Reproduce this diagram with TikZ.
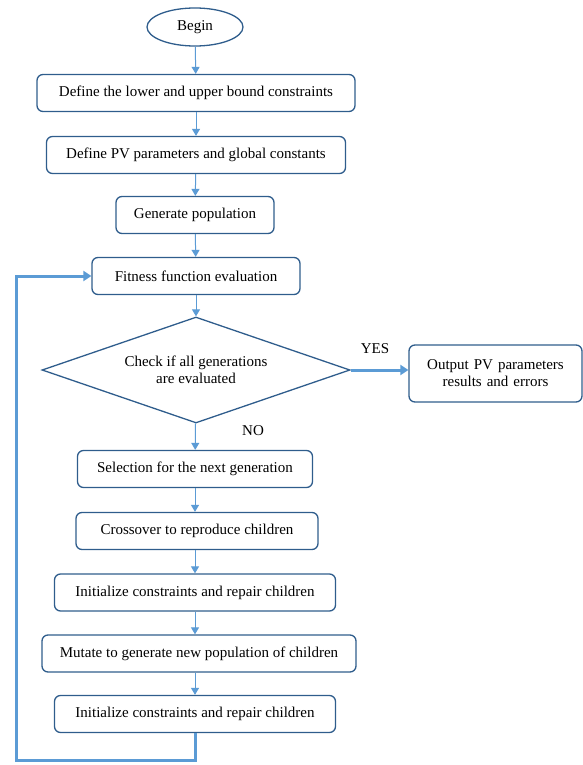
\documentclass[tikz,border=0pt]{standalone}
\usepackage{fontspec}
\setmainfont{Liberation Serif}
\usetikzlibrary{shapes.geometric,arrows.meta}
\definecolor{boxline}{HTML}{2F5D8C}
\definecolor{arr}{HTML}{5B9BD5}
\tikzset{
  stepbox/.style={draw=boxline, line width=1.3pt, rounded corners=6pt, minimum height=37pt, align=center, font=\fontsize{15}{17}\selectfont, inner sep=2pt},
  flow/.style={draw=arr, line width=1pt, -{Triangle[width=8pt,length=7pt]}},
  thickflow/.style={draw=arr, line width=3pt, -{Triangle[width=10pt,length=8pt]}},
  lbl/.style={font=\fontsize{15}{17}\selectfont}
}
\begin{document}
\begin{tikzpicture}[x=1pt,y=-1pt]
\useasboundingbox (0,0) rectangle (582,765);
\node[ellipse, draw=boxline, line width=1.3pt, minimum width=96pt, minimum height=38pt, inner sep=0pt, lbl] (begin) at (195,27) {Begin};
\node[stepbox, minimum width=318pt] (b1) at (196,93) {Define the lower and upper bound constraints};
\node[stepbox, minimum width=299pt] (b2) at (196,155) {Define PV parameters and global constants};
\node[stepbox, minimum width=158pt] (b3) at (195,215) {Generate population};
\node[stepbox, minimum width=208pt] (b4) at (196,276) {Fitness function evaluation};
\node[diamond, draw=boxline, line width=1.3pt, aspect=2.9, minimum width=308pt, minimum height=106pt, inner sep=0pt, align=center, lbl] (d) at (196,370) {Check if all generations\\are evaluated};
\node[stepbox, minimum width=173pt, minimum height=57pt, text width=165pt] (out) at (495.5,373.5) {Output PV parameters\\results and errors};
\node[stepbox, minimum width=235pt] (b5) at (195,469) {Selection for the next generation};
\node[stepbox, minimum width=242pt] (b6) at (197,531) {Crossover to reproduce children};
\node[stepbox, minimum width=281pt] (b7) at (195,592.5) {Initialize constraints and repair children};
\node[stepbox, minimum width=314pt] (b8) at (199,653.5) {Mutate to generate new population of children};
\node[stepbox, minimum width=281pt] (b9) at (195,714) {Initialize constraints and repair children};
\node[lbl] (yes) at (375,349) {YES};
\node[lbl] (no) at (253,431) {NO};
\coordinate (c1) at (195,760);
\coordinate (c2) at (16,760);
\coordinate (c3) at (16,276);
\draw[flow] (begin) -- (b1);
\draw[flow] (b1) -- (b2);
\draw[flow] (b2) -- (b3);
\draw[flow] (b3) -- (b4);
\draw[flow] (b4) -- (d);
\draw[flow] (d) -- (b5);
\draw[flow] (b5.south) -- (b5.south |- b6.north);
\draw[flow] (b6.south -| b5.south) -- (b7.north);
\draw[flow] (b7.south) -- (b7.south |- b8.north);
\draw[flow] (b8.south -| b9.north) -- (b9.north);
\draw[thickflow] (d.east) -- (out.west |- d.east);
\draw[thickflow] (b9.south) -- (c1) -- (c2) -- (c3) -- (b4.west);
\end{tikzpicture}
\end{document}
